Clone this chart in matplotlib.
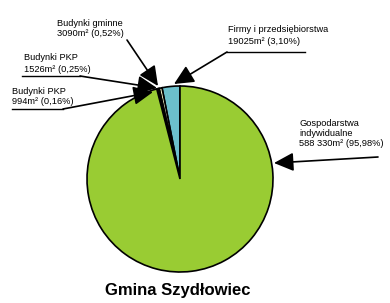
import matplotlib.pyplot as plt

# powierzchnia [m2] - Gmina Szydlowiec
labels = ['Firmy i przedsiębiorstwa', 'Budynki gminne', 'Budynki PKP',
          'Budynki PKP', 'Gospodarstwa indywidualne']
values = [19025, 3090, 1526, 994, 588330]
value_text = ['19025m² (3,10%)', '3090m² (0,52%)', '1526m² (0,25%)',
              '994m² (0,16%)', '588 330m² (95,98%)']
colors = ['#6cc0cc', '#f4f2c8', '#ffffff', '#f0f0e0', '#99cc33']

H = 303

plt.rcParams['font.family'] = ['Liberation Sans', 'DejaVu Sans']

fig = plt.figure(figsize=(3.9, 3.03), dpi=100)
ax = fig.add_axes([0, 0, 1, 1])

ax.pie(values, colors=colors, startangle=90, counterclock=True,
       center=(180, H - 179), radius=93, frame=True,
       wedgeprops=dict(edgecolor='black', linewidth=1.2))
ax.set_xlim(0, 390)
ax.set_ylim(0, H)
ax.set_aspect('equal')
ax.axis('off')


def y(p):
    return H - p


fs = 6.7
arrow = dict(arrowstyle='-|>,head_length=0.8,head_width=0.38',
             mutation_scale=15, color='black', lw=1.2, shrinkA=0, shrinkB=0)

# Firmy i przedsiebiorstwa
ax.text(228, y(29), labels[0], fontsize=fs, va='center')
ax.text(228, y(42), value_text[0], fontsize=fs, va='center')
ax.plot([227, 305], [y(52), y(52)], color='black', lw=1)
ax.annotate('', xy=(174, y(84)), xytext=(227, y(52)), arrowprops=arrow)

# Budynki gminne
ax.text(57, y(24), labels[1], fontsize=fs, va='center')
ax.text(57, y(34), value_text[1], fontsize=fs, va='center')
ax.annotate('', xy=(158, y(86)), xytext=(127, y(40)), arrowprops=arrow)

# Budynki PKP 1526
ax.text(24, y(58), labels[2], fontsize=fs, va='center')
ax.text(24, y(70), value_text[2], fontsize=fs, va='center')
ax.plot([22, 80], [y(76), y(76)], color='black', lw=1)
ax.annotate('', xy=(157, y(88)), xytext=(80, y(76)), arrowprops=arrow)

# Budynki PKP 994
ax.text(12, y(91), labels[3], fontsize=fs, va='center')
ax.text(12, y(101), value_text[3], fontsize=fs, va='center')
ax.plot([12, 63], [y(109), y(109)], color='black', lw=1)
ax.annotate('', xy=(153, y(92)), xytext=(63, y(109)), arrowprops=arrow)

# Gospodarstwa indywidualne
ax.text(299, y(124), 'Gospodarstwa', fontsize=fs, va='center')
ax.text(299, y(133), 'indywidualne', fontsize=fs, va='center')
ax.text(299, y(143), value_text[4], fontsize=fs, va='center')
ax.annotate('', xy=(274, y(163)), xytext=(378, y(157)), arrowprops=arrow)

ax.text(178, y(290), 'Gmina Szydłowiec', fontsize=12, fontweight='bold',
        ha='center', va='center')

fig.savefig('out.png', dpi=100)
